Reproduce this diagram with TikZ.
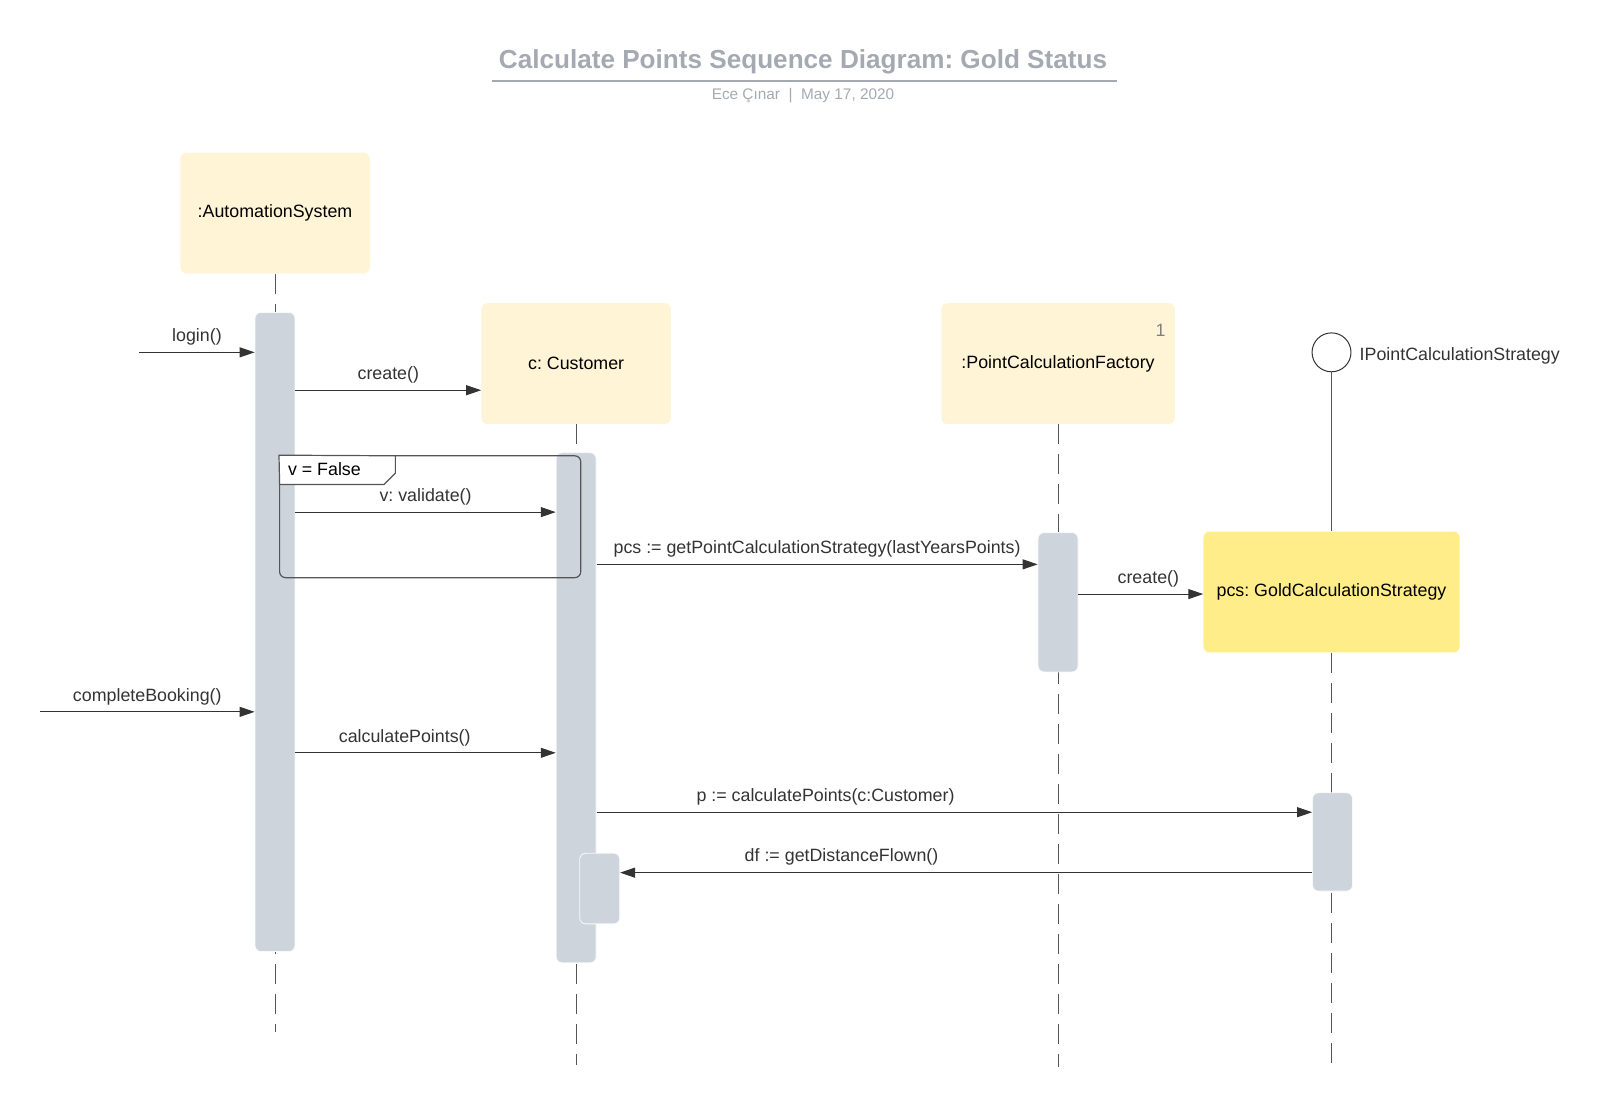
\documentclass[tikz,border=0pt]{standalone}
\usepackage{fontspec}
\setmainfont{Liberation Sans}
\usetikzlibrary{arrows.meta,positioning}
\frenchspacing

\definecolor{boxcream}{HTML}{FFF4D6}
\definecolor{boxgold}{HTML}{FFED8A}
\definecolor{barblue}{HTML}{CED4DC}
\definecolor{inkgray}{HTML}{333333}
\definecolor{dashgray}{HTML}{555555}
\definecolor{titlegray}{HTML}{A4A9B2}

\tikzset{
	lifebox/.style={fill=boxcream, rounded corners=6pt, minimum width=185pt, minimum height=118pt, inner sep=0pt, font=\fontsize{17.4}{20}\selectfont},
	actbar/.style={fill=barblue, draw=white!85!barblue, line width=0.8pt, rounded corners=6pt, minimum width=39pt, inner sep=0pt},
	lifeline/.style={dashgray, line width=1pt, dash pattern=on 20pt off 10pt},
	msg/.style={inkgray, line width=1pt, -{Triangle[length=15pt,width=10pt]}},
	msglabel/.style={midway, anchor=base, yshift=10.5pt, inner sep=0pt, text=inkgray, font=\fontsize{17.4}{20}\selectfont}
}

\begin{document}
\begin{tikzpicture}[x=1.0242pt, y=-1.0242pt, every node/.append style={scale=1.0242}]
	\useasboundingbox (0,0) rectangle (1568,1085.7);

	% Title
	\node[text=titlegray, font=\fontsize{25.5}{30}\bfseries] (title) at (784,60) {Calculate Points Sequence Diagram: Gold Status};
	\draw[titlegray, line width=1.2pt] (480,79) -- (1091,79);
	\node[text=titlegray, font=\fontsize{15}{18}\selectfont] (subtitle) at (784,93) {Ece Çınar \ | \ May 17, 2020};

	% Objects
	\node[lifebox] (asys) at (268.5,208) {:AutomationSystem};
	\node[lifebox] (cust) at (562.5,355) {c: Customer};
	\node[lifebox, minimum width=228pt] (factory) at (1033,355) {:PointCalculationFactory};
	\node[text=gray, font=\fontsize{17.4}{20}\selectfont] (mult) at (1133,323) {1};
	\node[lifebox, fill=boxgold, minimum width=250pt] (gold) at (1300,578) {pcs: GoldCalculationStrategy};

	% Interface
	\node[circle, draw=inkgray, line width=1pt, minimum size=38pt, inner sep=0pt] (iface) at (1300,344) {};
	\node[right=8pt of iface, yshift=-3.5pt, inner sep=0pt, text=inkgray, font=\fontsize{17.4}{20}\selectfont] (ifacename) {IPointCalculationStrategy};
	\draw[dashgray, line width=1pt] (iface.south) -- (gold.north);

	% Lifelines
	\coordinate (asysend) at (268.5,1008);
	\coordinate (custend) at (562.5,1040);
	\coordinate (factoryend) at (1033,1042);
	\coordinate (goldend) at (1300,1047);
	\draw[lifeline] (asys.south) -- (asysend);
	\draw[lifeline] (cust.south) -- (custend);
	\draw[lifeline] (factory.south) -- (factoryend);
	\draw[lifeline] (gold.south) -- (goldend);

	% Activation bars
	\node[actbar, minimum height=624pt] (actA) at (268.5,617) {};
	\node[actbar, minimum height=498pt] (actC) at (562.5,691) {};
	\node[actbar, minimum height=69pt] (actCb) at (585.5,867.5) {};
	\node[actbar, minimum height=136pt] (actF) at (1033,588) {};
	\node[actbar, minimum height=96pt] (actG) at (1301,822) {};

	% Frame v = False
	\node[draw=dashgray, line width=1.2pt, rounded corners=6pt, minimum width=294pt, minimum height=119pt, inner sep=0pt] (vframe) at (420,504.5) {};
	\filldraw[draw=dashgray, fill=white, line width=1.2pt] (vframe.north west) -- (273,473) -- (375,473) -- (386,462) -- (386,445) -- cycle;
	\node[anchor=west, inner sep=0pt, font=\fontsize{17.4}{20}\selectfont] (vcond) at (281,458) {v = False};

	% Messages
	\coordinate (loginsrc) at (136,344);
	\coordinate (bookingsrc) at (39,695);
	\draw[msg] (loginsrc) -- (actA.west |- loginsrc) node[msglabel] {login()};
	\draw[msg] (actA.east |- 0,381) -- (cust.west |- 0,381) node[msglabel] {create()};
	\draw[msg] (actA.east |- 0,500) -- (actC.west |- 0,500) node[msglabel] {v: validate()};
	\draw[msg] (actC.east |- 0,551) -- (actF.west |- 0,551) node[msglabel] {pcs := getPointCalculationStrategy(lastYearsPoints)};
	\draw[msg] (actF.east |- 0,580) -- (gold.west |- 0,580) node[msglabel, pos=0.56] {create()};
	\draw[msg] (bookingsrc) -- (actA.west |- bookingsrc) node[msglabel] {completeBooking()};
	\draw[msg] (actA.east |- 0,735) -- (actC.west |- 0,735) node[msglabel, pos=0.42] {calculatePoints()};
	\draw[msg] (actC.east |- 0,793) -- (actG.west |- 0,793) node[msglabel, pos=0.32] {p := calculatePoints(c:Customer)};
	\draw[msg] (actG.west |- 0,852) -- (actCb.east |- 0,852) node[msglabel, pos=0.68] {df := getDistanceFlown()};

\end{tikzpicture}
\end{document}
